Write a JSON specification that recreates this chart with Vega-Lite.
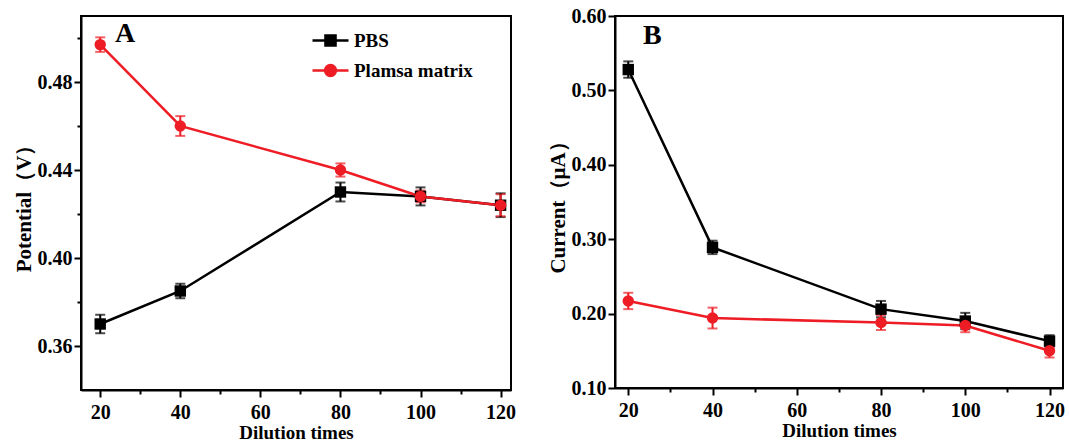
{
  "$schema": "https://vega.github.io/schema/vega-lite/v6.json",
  "background": "white",
  "padding": {"left": 12, "top": 5, "right": 5, "bottom": 0},
  "spacing": 104,
  "bounds": "flush",
  "datasets": {
    "a": [
      {"series": "PBS", "x": 20, "y": 0.370, "err": 0.0042},
      {"series": "PBS", "x": 40, "y": 0.385, "err": 0.0033},
      {"series": "PBS", "x": 80, "y": 0.430, "err": 0.0043},
      {"series": "PBS", "x": 100, "y": 0.428, "err": 0.0041},
      {"series": "PBS", "x": 120, "y": 0.424, "err": 0.0054},
      {"series": "Plamsa matrix", "x": 20, "y": 0.497, "err": 0.0033},
      {"series": "Plamsa matrix", "x": 40, "y": 0.460, "err": 0.0045},
      {"series": "Plamsa matrix", "x": 80, "y": 0.440, "err": 0.003},
      {"series": "Plamsa matrix", "x": 100, "y": 0.428, "err": 0.0027},
      {"series": "Plamsa matrix", "x": 120, "y": 0.424, "err": 0.005}
    ],
    "b": [
      {"series": "PBS", "x": 20, "y": 0.528, "err": 0.011},
      {"series": "PBS", "x": 40, "y": 0.289, "err": 0.009},
      {"series": "PBS", "x": 80, "y": 0.206, "err": 0.011},
      {"series": "PBS", "x": 100, "y": 0.190, "err": 0.011},
      {"series": "PBS", "x": 120, "y": 0.163, "err": 0.008},
      {"series": "Plamsa matrix", "x": 20, "y": 0.217, "err": 0.011},
      {"series": "Plamsa matrix", "x": 40, "y": 0.194, "err": 0.014},
      {"series": "Plamsa matrix", "x": 80, "y": 0.188, "err": 0.010},
      {"series": "Plamsa matrix", "x": 100, "y": 0.184, "err": 0.009},
      {"series": "Plamsa matrix", "x": 120, "y": 0.150, "err": 0.009}
    ]
  },
  "resolve": {"scale": {"color": "independent"}, "legend": {"color": "independent"}},
  "hconcat": [
    {
      "width": 430,
      "height": 374,
      "layer": [
        {
          "data": {"name": "a"},
          "mark": {"type": "line", "strokeWidth": 2.5},
          "encoding": {
            "x": {"field": "x", "type": "quantitative", "scale": {"domain": [15.2, 122.6], "nice": false, "zero": false},
              "axis": {"title": "Dilution times", "values": [20, 30, 40, 50, 60, 70, 80, 90, 100, 110, 120],
                "labelExpr": "datum.value % 20 === 0 ? datum.label : ''",
                "tickSize": {"condition": {"test": "datum.value % 20 === 0", "value": 7}, "value": 4}}},
            "y": {"field": "y", "type": "quantitative", "title": "Potential（V）", "scale": {"domain": [0.34, 0.51], "nice": false, "zero": false},
              "axis": {"title": "Potential（V）", "values": [0.36, 0.38, 0.40, 0.42, 0.44, 0.46, 0.48, 0.50],
                "labelExpr": "round(datum.value*100) % 4 === 0 ? format(datum.value, '.2f') : ''",
                "tickSize": {"condition": {"test": "round(datum.value*100) % 4 === 0", "value": 7}, "value": 4}}},
            "color": {"field": "series", "type": "nominal",
              "scale": {"domain": ["PBS", "Plamsa matrix"], "range": ["#000000", "#ee1c24"]},
              "legend": {
                "orient": "none", "legendX": 230, "legendY": 5, "title": null,
                "labelFont": "Liberation Serif", "labelFontWeight": "bold", "labelFontSize": 19, "labelColor": "black",
                "symbolSize": 1296, "symbolStrokeWidth": 2.5, "rowPadding": -14, "labelOffset": 4,
                "encode": {"symbols": {"update": {
                  "shape": {"signal": "datum.value === 'PBS' ? 'M-1,0H1M-0.28,-0.28H0.28V0.28H-0.28Z' : 'M-1,0H1M0.3,0A0.3,0.3 0 1,1 -0.3,0A0.3,0.3 0 1,1 0.3,0Z'"},
                  "fill": {"signal": "datum.value === 'PBS' ? '#000000' : '#ee1c24'"},
                  "stroke": {"signal": "datum.value === 'PBS' ? '#000000' : '#ee1c24'"},
                  "opacity": {"value": 1}
                }}}
              }}
          }
        },
        {
          "data": {"name": "a"},
          "mark": {"type": "errorbar", "ticks": {"size": 10}, "thickness": 2},
          "encoding": {
            "x": {"field": "x", "type": "quantitative"},
            "y": {"field": "y", "type": "quantitative", "title": "Potential（V）"},
            "yError": {"field": "err"},
            "color": {"field": "series", "type": "nominal"}
          }
        },
        {
          "data": {"name": "a"},
          "transform": [{"filter": "datum.series === 'PBS'"}],
          "mark": {"type": "point", "filled": true, "shape": "square", "size": 130, "opacity": 1},
          "encoding": {
            "x": {"field": "x", "type": "quantitative"},
            "y": {"field": "y", "type": "quantitative", "title": "Potential（V）"},
            "color": {"field": "series", "type": "nominal"}
          }
        },
        {
          "data": {"name": "a"},
          "transform": [{"filter": "datum.series !== 'PBS'"}],
          "mark": {"type": "point", "filled": true, "shape": "circle", "size": 130, "opacity": 1},
          "encoding": {
            "x": {"field": "x", "type": "quantitative"},
            "y": {"field": "y", "type": "quantitative", "title": "Potential（V）"},
            "color": {"field": "series", "type": "nominal"}
          }
        },
        {
          "data": {"values": [{"label": "A"}]},
          "mark": {"type": "text", "font": "Liberation Serif", "fontWeight": "bold", "fontSize": 28, "align": "center", "baseline": "middle", "color": "black"},
          "encoding": {
            "x": {"datum": 26.2},
            "y": {"datum": 0.5017},
            "text": {"field": "label"}
          }
        }
      ]
    },
    {
      "width": 448,
      "height": 372,
      "layer": [
        {
          "data": {"name": "b"},
          "mark": {"type": "line", "strokeWidth": 2.5},
          "encoding": {
            "x": {"field": "x", "type": "quantitative", "scale": {"domain": [16.85, 123.2], "nice": false, "zero": false},
              "axis": {"title": "Dilution times", "values": [20, 30, 40, 50, 60, 70, 80, 90, 100, 110, 120],
                "labelExpr": "datum.value % 20 === 0 ? datum.label : ''",
                "tickSize": {"condition": {"test": "datum.value % 20 === 0", "value": 7}, "value": 4}}},
            "y": {"field": "y", "type": "quantitative", "title": "Current（μA）", "scale": {"domain": [0.10, 0.60], "nice": false, "zero": false},
              "axis": {"title": "Current（μA）", "values": [0.10, 0.15, 0.20, 0.25, 0.30, 0.35, 0.40, 0.45, 0.50, 0.55, 0.60],
                "labelExpr": "round(datum.value*100) % 10 === 0 ? format(datum.value, '.2f') : ''",
                "tickSize": {"condition": {"test": "round(datum.value*100) % 10 === 0", "value": 7}, "value": 4}}},
            "color": {"field": "series", "type": "nominal",
              "scale": {"domain": ["PBS", "Plamsa matrix"], "range": ["#000000", "#ee1c24"]}, "legend": null}
          }
        },
        {
          "data": {"name": "b"},
          "mark": {"type": "errorbar", "ticks": {"size": 10}, "thickness": 2},
          "encoding": {
            "x": {"field": "x", "type": "quantitative"},
            "y": {"field": "y", "type": "quantitative", "title": "Current（μA）"},
            "yError": {"field": "err"},
            "color": {"field": "series", "type": "nominal", "legend": null}
          }
        },
        {
          "data": {"name": "b"},
          "transform": [{"filter": "datum.series === 'PBS'"}],
          "mark": {"type": "point", "filled": true, "shape": "square", "size": 130, "opacity": 1},
          "encoding": {
            "x": {"field": "x", "type": "quantitative"},
            "y": {"field": "y", "type": "quantitative", "title": "Current（μA）"},
            "color": {"field": "series", "type": "nominal", "legend": null}
          }
        },
        {
          "data": {"name": "b"},
          "transform": [{"filter": "datum.series !== 'PBS'"}],
          "mark": {"type": "point", "filled": true, "shape": "circle", "size": 130, "opacity": 1},
          "encoding": {
            "x": {"field": "x", "type": "quantitative"},
            "y": {"field": "y", "type": "quantitative", "title": "Current（μA）"},
            "color": {"field": "series", "type": "nominal", "legend": null}
          }
        },
        {
          "data": {"values": [{"label": "B"}]},
          "mark": {"type": "text", "font": "Liberation Serif", "fontWeight": "bold", "fontSize": 28, "align": "center", "baseline": "middle", "color": "black"},
          "encoding": {
            "x": {"datum": 25.7},
            "y": {"datum": 0.573},
            "text": {"field": "label"}
          }
        }
      ]
    }
  ],
  "config": {
    "view": {"stroke": "#000000", "strokeWidth": 2},
    "axis": {
      "grid": false,
      "domainColor": "#000000", "domainWidth": 2,
      "tickColor": "#000000", "tickWidth": 2,
      "labelFont": "Liberation Serif", "labelFontWeight": "bold", "labelFontSize": 20, "labelColor": "#000000",
      "titleFont": "Liberation Serif", "titleFontWeight": "bold", "titleFontSize": 19, "titleColor": "#000000"
    },
    "axisX": {"titlePadding": 1, "labelPadding": 5},
    "axisY": {"titlePadding": 3, "labelPadding": 2, "titleFontSize": 21}
  }
}
